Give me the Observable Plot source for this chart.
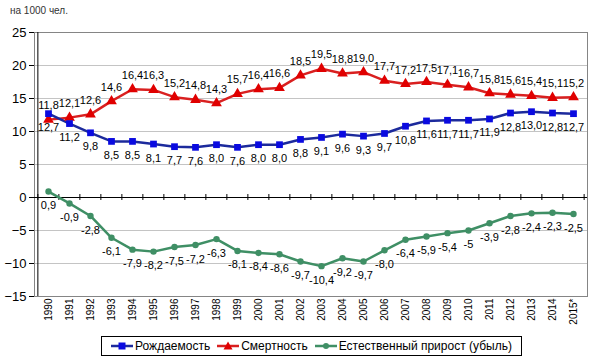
<!DOCTYPE html>
<html><head><meta charset="utf-8">
<script src="https://cdn.jsdelivr.net/npm/d3@7"></script>
<script src="https://cdn.jsdelivr.net/npm/@observablehq/plot@0.6"></script>
<style>
body{margin:0;background:#fff;font-family:Arial,"Liberation Sans",sans-serif;}
#wrap{position:relative;width:595px;height:362px;overflow:hidden;}
#title{position:absolute;left:10px;top:5px;font-size:10px;color:#333;}
#chart{position:absolute;left:0;top:0;}
#legend{position:absolute;left:101px;top:336px;width:419px;height:18px;border:1px solid #000;display:flex;align-items:center;justify-content:center;gap:7px;font-size:12px;color:#000;background:#fff;}
#legend .it{display:flex;align-items:center;gap:2px;white-space:nowrap;}
</style></head>
<body><div id="wrap"><div id="chart"></div><div id="title">на 1000 чел.</div><div id="legend"></div></div>
<script>
const years = ["1990","1991","1992","1993","1994","1995","1996","1997","1998","1999","2000","2001","2002","2003","2004","2005","2006","2007","2008","2009","2010","2011","2012","2013","2014","2015*"];
const birth = [12.7,11.2,9.8,8.5,8.5,8.1,7.7,7.6,8.0,7.6,8.0,8.0,8.8,9.1,9.6,9.3,9.7,10.8,11.6,11.7,11.7,11.9,12.8,13.0,12.8,12.7];
const death = [11.8,12.1,12.6,14.6,16.4,16.3,15.2,14.8,14.3,15.7,16.4,16.6,18.5,19.5,18.8,19.0,17.7,17.2,17.5,17.1,16.7,15.8,15.6,15.4,15.1,15.2];
const natural = [0.9,-0.9,-2.8,-6.1,-7.9,-8.2,-7.5,-7.2,-6.3,-8.1,-8.4,-8.6,-9.7,-10.4,-9.2,-9.7,-8.0,-6.4,-5.9,-5.4,-5,-3.9,-2.8,-2.4,-2.3,-2.5];
const naturalText = ["0,9","-0,9","-2,8","-6,1","-7,9","-8,2","-7,5","-7,2","-6,3","-8,1","-8,4","-8,6","-9,7","-10,4","-9,2","-9,7","-8,0","-6,4","-5,9","-5,4","-5","-3,9","-2,8","-2,4","-2,3","-2,5"];
const seriesNames = ["Рождаемость","Смертность","Естественный прирост (убыль)"];
const yTicks = [-15,-10,-5,0,5,10,15,20,25];
const gridTicks = [-10,-5,5,10,15,20];

const colors = {birthLine:"#1c2a9c", birthDot:"#0a0ae0", deathLine:"#d92020", deathDot:"#e00000", nat:"#3f8f65"};
const rows = years.map((y,i)=>({year:y, birth:birth[i], death:death[i], natural:natural[i], nt:naturalText[i]}));
const fmt = v => v.toFixed(1).replace(".", ",");

const W = 595, ML = 34, MR = 8;
const step = (W - ML - MR) / years.length;

const chart = Plot.plot({
  width: W, height: 334,
  marginLeft: ML, marginRight: MR, marginTop: 32, marginBottom: 38,
  style: {fontFamily: "Arial, 'Liberation Sans', sans-serif", background: "white", color: "black", fontSize: "11px"},
  x: {type: "point", domain: years, padding: 0.5, align: 0.5, label: null},
  y: {domain: [-15, 25], label: null},
  marks: [
    Plot.ruleY(gridTicks, {stroke: "#c4c4c4"}),
    Plot.frame({stroke: "#858585"}),
    Plot.ruleY([0], {stroke: "#000"}),
    Plot.ruleX(rows, {x: "year", y1: -0.45, y2: 0.45, dx: -step/2, stroke: "#000"}),
    Plot.ruleX([years[years.length-1]], {y1: -0.45, y2: 0.45, dx: step/2, stroke: "#000"}),
    Plot.ruleX([years[0]], {y1: -15, y2: 25, dx: -step/2, stroke: "#000"}),
    Plot.axisY({ticks: yTicks, tickSize: 5, tickPadding: 3, fontSize: 13, label: null}),
    Plot.axisX({tickRotate: -90, tickSize: 0, tickPadding: 2, fontSize: 10, label: null}),
    Plot.line(rows, {x: "year", y: "death", stroke: colors.deathLine, strokeWidth: 2.5}),
    Plot.line(rows, {x: "year", y: "birth", stroke: colors.birthLine, strokeWidth: 2.5}),
    Plot.line(rows, {x: "year", y: "natural", stroke: colors.nat, strokeWidth: 2.5}),
    Plot.dot(rows, {x: "year", y: "death", symbol: "triangle", fill: colors.deathDot, r: 4}),
    Plot.dot(rows, {x: "year", y: "birth", symbol: "square", fill: colors.birthDot, r: 3.8}),
    Plot.dot(rows, {x: "year", y: "natural", symbol: "circle", fill: colors.nat, r: 3.2}),
    Plot.text(rows, {x: "year", y: "death", text: d => fmt(d.death), dy: -14, fontSize: 11, fill: "#000"}),
    Plot.text(rows, {x: "year", y: "birth", text: d => fmt(d.birth), dy: 14, fontSize: 11, fill: "#000"}),
    Plot.text(rows, {x: "year", y: "natural", text: "nt", dy: 14, fontSize: 11, fill: "#000"})
  ]
});
document.getElementById("chart").appendChild(chart);

const samples = [
  `<svg width="22" height="10"><line x1="0" y1="5" x2="22" y2="5" stroke="${colors.birthLine}" stroke-width="2.5"/><rect x="7.5" y="1.5" width="7" height="7" fill="${colors.birthDot}"/></svg>`,
  `<svg width="22" height="10"><line x1="0" y1="5" x2="22" y2="5" stroke="${colors.deathLine}" stroke-width="2.5"/><path d="M11,0.5L15.5,8.5L6.5,8.5Z" fill="${colors.deathDot}"/></svg>`,
  `<svg width="22" height="10"><line x1="0" y1="5" x2="22" y2="5" stroke="${colors.nat}" stroke-width="2.5"/><circle cx="11" cy="5" r="3" fill="${colors.nat}"/></svg>`
];
document.getElementById("legend").innerHTML = seriesNames.map((n,i)=>`<span class="it">${samples[i]}<span>${n}</span></span>`).join("");
</script></body></html>
